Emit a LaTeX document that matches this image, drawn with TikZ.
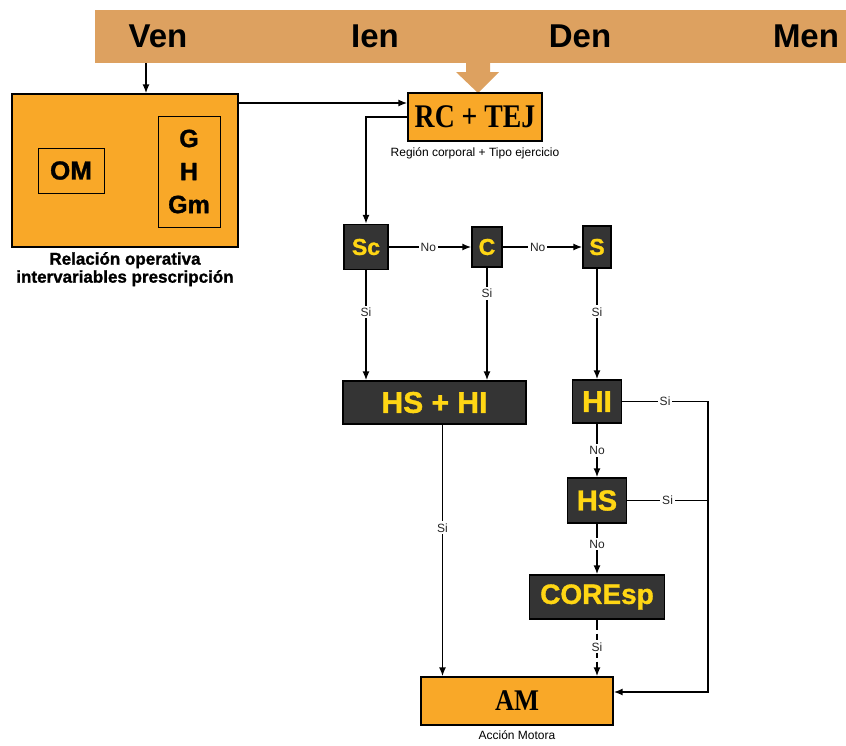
\documentclass[tikz,border=0pt]{standalone}
\usepackage{fontspec}
\setmainfont{Liberation Sans}
\newfontfamily\serifcond{Liberation Serif}
\newfontfamily\pesada[BoldFeatures={FakeBold=1.2}]{Liberation Sans}
\usepackage{xcolor}
\usepackage{tikz}
\usetikzlibrary{arrows.meta,calc}
\definecolor{OcreBanda}{RGB}{221,161,96}
\definecolor{NaranjaCaja}{RGB}{249,168,40}
\definecolor{GrisCaja}{RGB}{52,52,52}
\definecolor{AmarilloTexto}{RGB}{255,214,20}

\begin{document}
\begin{tikzpicture}[x=1pt,y=-1pt,>={Latex[length=9pt,width=7pt]},
  caja/.style={draw=black,line width=1.3pt,fill=NaranjaCaja,inner sep=0pt},
  decision/.style={draw=black,line width=1.3pt,fill=GrisCaja,text=AmarilloTexto,inner sep=0pt},
  flecha/.style={->,line width=1.6pt},
  etiq/.style={fill=white,text=black!85,font=\fontsize{12}{13}\selectfont,inner sep=2pt},
  nota/.style={font=\fontsize{12}{14}\selectfont}]
  \useasboundingbox (0,0) rectangle (846,745);

  % banda superior
  \node[fill=OcreBanda,minimum width=751,minimum height=53,anchor=north west,inner sep=0pt] (banda) at (95,10) {};
  \node[font=\fontsize{33}{36}\selectfont\bfseries] (ven) at (158,36) {Ven};
  \node[font=\fontsize{33}{36}\selectfont\bfseries] (ien) at (375,36) {Ien};
  \node[font=\fontsize{33}{36}\selectfont\bfseries] (den) at (580,36) {Den};
  \node[font=\fontsize{33}{36}\selectfont\bfseries] (men) at (806,36) {Men};
  \fill[OcreBanda] (466,62) -- (490,62) -- (490,72) -- (499,72) -- (478,93) -- (456,72) -- (466,72) -- cycle;

  % caja de relacion operativa
  \node[caja,minimum width=226,minimum height=153] (relacion) at (125,170.5) {};
  \node[caja,line width=1pt,minimum width=66,minimum height=45,font=\pesada\fontsize{26}{28}\selectfont\bfseries] (om) at (71,170.5) {OM};
  \node[caja,line width=1pt,minimum width=62,minimum height=111,align=center,font=\pesada\fontsize{25}{33}\selectfont\bfseries] (ghgm) at (189,171.5) {G\\H\\Gm};
  \node[anchor=north,align=center,font=\pesada\fontsize{17}{18}\selectfont\bfseries] (relacionnota) at ([yshift=-1pt]relacion.south) {Relación operativa\\intervariables prescripción};

  % region corporal
  \node[caja,minimum width=134,minimum height=48,font=\serifcond\fontsize{33}{36}\selectfont\bfseries] (rc) at (475,117) {\scalebox{0.84}[1]{RC + TEJ}};
  \node[nota,anchor=north] (rcnota) at ([yshift=-2pt]rc.south) {Región corporal + Tipo ejercicio};

  % decisiones
  \node[decision,minimum width=44,minimum height=45,font=\pesada\fontsize{23}{25}\selectfont\bfseries] (sc) at (366,247) {Sc};
  \node[decision,minimum width=30,minimum height=40,font=\pesada\fontsize{23}{25}\selectfont\bfseries] (c) at (487,247) {C};
  \node[decision,minimum width=28,minimum height=42,font=\pesada\fontsize{23}{25}\selectfont\bfseries] (s) at (597,247) {S};
  \node[decision,minimum width=183,minimum height=43,font=\pesada\fontsize{30}{32}\selectfont\bfseries] (hshi) at (434.5,402.5) {HS + HI};
  \node[decision,minimum width=49,minimum height=43,font=\pesada\fontsize{30}{32}\selectfont\bfseries] (hi) at (597,401.5) {HI};
  \node[decision,minimum width=59,minimum height=45,font=\pesada\fontsize{29}{31}\selectfont\bfseries] (hs) at (597,500.5) {HS};
  \node[decision,minimum width=135,minimum height=44,font=\pesada\fontsize{28}{30}\selectfont\bfseries] (coresp) at (597,597) {COREsp};

  % accion motora
  \node[caja,minimum width=192,minimum height=48,font=\serifcond\fontsize{30}{32}\selectfont\bfseries] (am) at (517,701) {\scalebox{0.88}[1]{AM}};
  \node[nota,anchor=north] (amnota) at ([yshift=-1pt]am.south) {Acción Motora};
  \coordinate (riel) at (708,692);

  % conexiones
  \draw[flecha] ([xshift=21pt]relacion.north |- banda.south) -- ([xshift=21pt]relacion.north);
  \draw[flecha] ([yshift=14pt]rc.west -| relacion.east) -- ([yshift=14pt]rc.west);
  \draw[flecha] (rc.west) -| (sc.north);
  \draw[flecha] (sc.east) -- (c.west) node[etiq,pos=0.48] {No};
  \draw[flecha] (c.east) -- (s.west) node[etiq,pos=0.44] {No};
  \draw[flecha] (sc.south) -- (sc.south |- hshi.north) node[etiq,pos=0.38] {Si};
  \draw[flecha] (c.south) -- (c.south |- hshi.north) node[etiq,pos=0.23] {Si};
  \draw[flecha] (s.south) -- (hi.north) node[etiq,pos=0.39] {Si};
  \draw[flecha] (hi.south) -- (hs.north) node[etiq,pos=0.5] {No};
  \draw[flecha] (hs.south) -- (coresp.north) node[etiq,pos=0.4] {No};
  \draw[flecha] ([xshift=8pt]hshi.south) -- ([xshift=8pt]hshi.south |- am.north) node[etiq,pos=0.41] {Si};
  \draw[flecha,dash pattern=on 10pt off 4pt] (coresp.south) -- (coresp.south |- am.north) node[etiq,pos=0.48] {Si};
  \draw[flecha] (hi.east) -| node[etiq,pos=0.25] {Si} (riel) -- (riel -| am.east);
  \draw[line width=1.6pt] (hs.east) -- (hs.east -| riel) node[etiq,midway] {Si};
\end{tikzpicture}
\end{document}
